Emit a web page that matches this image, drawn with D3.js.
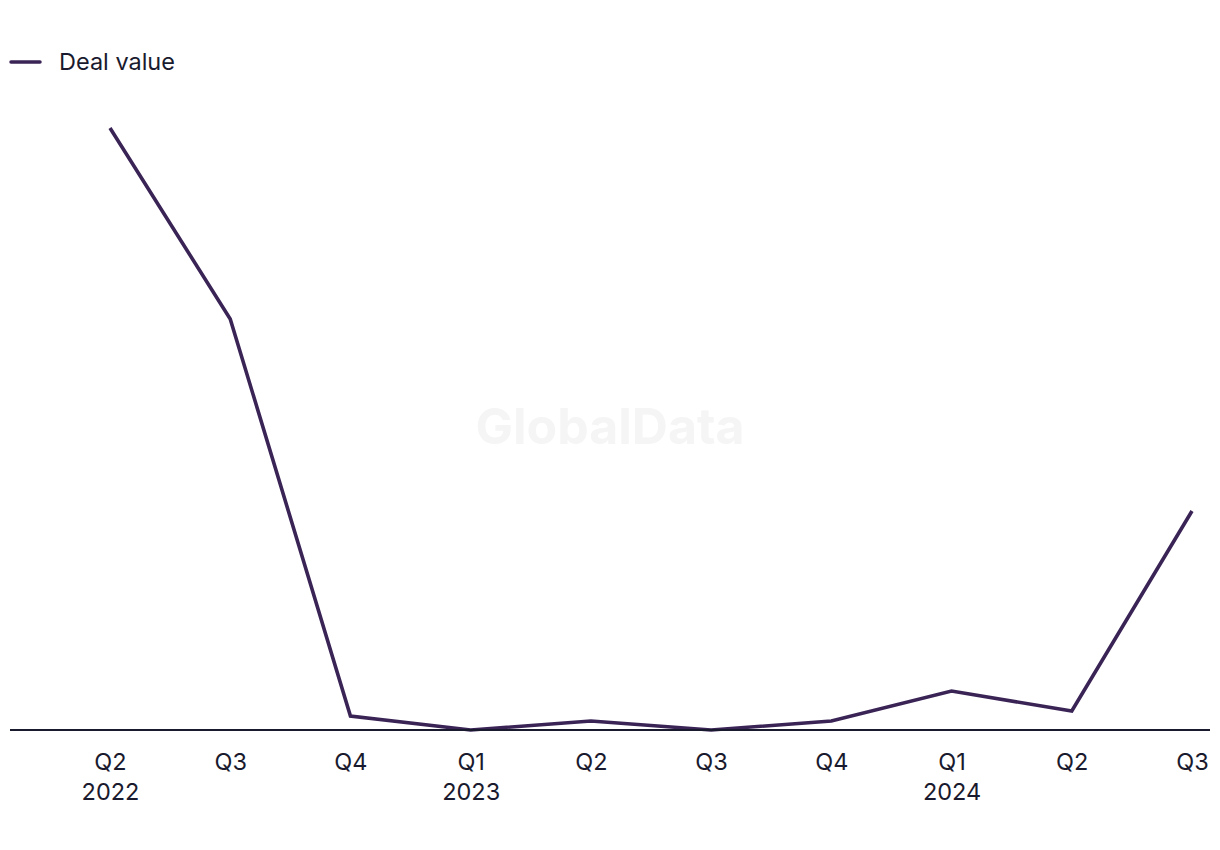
<!DOCTYPE html>
<html>
<head>
<meta charset="utf-8">
<script src="https://cdn.jsdelivr.net/npm/d3@7"></script>
<style>
  html, body { margin: 0; padding: 0; background: #fff; }
  svg { display: block; }
  text { font-family: Inter, "Liberation Sans", Arial, sans-serif; }
</style>
</head>
<body>
<svg id="chart" width="1220" height="850"></svg>
<script>
const quarters = ["Q2", "Q3", "Q4", "Q1", "Q2", "Q3", "Q4", "Q1", "Q2", "Q3"];
const years = ["2022", "", "", "2023", "", "", "", "2024", "", ""];
const dealValue = [602, 411, 14, 0, 9, 0, 9, 39, 19, 219];
const seriesName = "Deal value";

const svg = d3.select("#chart");
const lineColor = "#3a2456";
const axisColor = "#1a1a2e";

const idx = d3.range(quarters.length);
const x = d3.scalePoint().domain(idx).range([110, 1192]);
const y = d3.scaleLinear().domain([0, 602]).range([730, 128]);

// watermark
svg.append("text")
  .attr("x", 610).attr("y", 444)
  .attr("text-anchor", "middle")
  .attr("font-size", 50).attr("font-weight", 700)
  .attr("fill", "#f5f5f5")
  .text("GlobalData");

// legend
svg.append("line")
  .attr("x1", 11).attr("x2", 40).attr("y1", 62).attr("y2", 62)
  .attr("stroke", lineColor).attr("stroke-width", 3.5).attr("stroke-linecap", "round");
svg.append("text")
  .attr("x", 59).attr("y", 70)
  .attr("font-size", 23.5).attr("fill", axisColor)
  .text(seriesName);

// line
const line = d3.line().x((d, i) => x(i)).y(d => y(d));
svg.append("path")
  .datum(dealValue)
  .attr("fill", "none")
  .attr("stroke", lineColor)
  .attr("stroke-width", 3.6)
  .attr("stroke-linejoin", "miter")
  .attr("d", line);

// x axis
const axis = d3.axisBottom(x).tickSize(0).tickFormat(i => quarters[i]);
const gx = svg.append("g").attr("transform", `translate(0,${y(0)})`).call(axis);
gx.select(".domain").remove();
svg.append("line")
  .attr("x1", 10).attr("x2", 1210).attr("y1", y(0)).attr("y2", y(0))
  .attr("stroke", axisColor).attr("stroke-width", 2);
gx.selectAll(".tick text").remove();
gx.selectAll(".tick").each(function(i) {
  const t = d3.select(this).append("text")
    .attr("text-anchor", "middle")
    .attr("fill", axisColor)
    .attr("font-size", 23.5)
    .attr("font-family", "Inter, 'Liberation Sans', Arial, sans-serif");
  t.append("tspan").attr("x", 0).attr("y", 40).text(quarters[i]);
  if (years[i]) t.append("tspan").attr("x", 0).attr("y", 70).text(years[i]);
});
</script>
</body>
</html>
